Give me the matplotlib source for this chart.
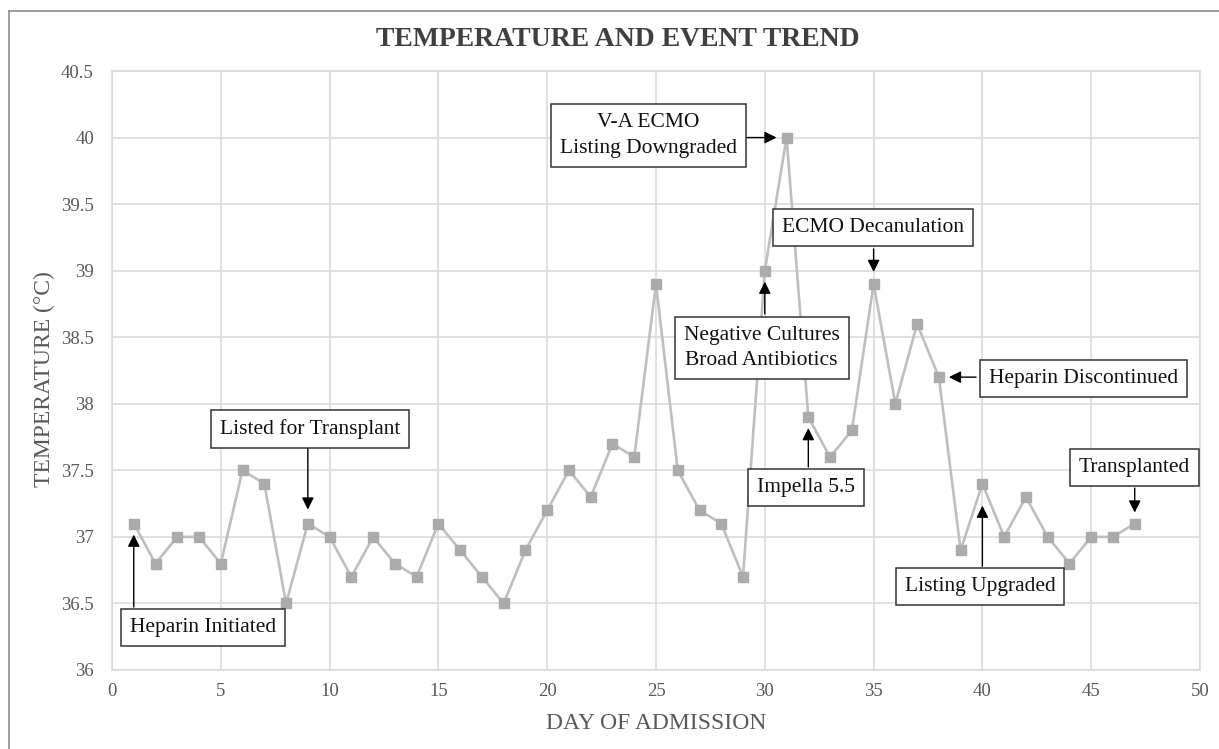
import matplotlib
matplotlib.use("Agg")
import matplotlib.pyplot as plt
from matplotlib.lines import Line2D
from matplotlib.ticker import FuncFormatter

plt.rcParams['font.family'] = ['Liberation Serif', 'DejaVu Serif']

# Datos del grafico
days = list(range(1, 48))
temps = [37.1, 36.8, 37.0, 37.0, 36.8, 37.5, 37.4, 36.5, 37.1, 37.0,
         36.7, 37.0, 36.8, 36.7, 37.1, 36.9, 36.7, 36.5, 36.9, 37.2,
         37.5, 37.3, 37.7, 37.6, 38.9, 37.5, 37.2, 37.1, 36.7, 39.0,
         40.0, 37.9, 37.6, 37.8, 38.9, 38.0, 38.6, 38.2, 36.9, 37.4,
         37.0, 37.3, 37.0, 36.8, 37.0, 37.0, 37.1]

event_labels = ["Heparin Initiated", "Listed for Transplant", "V-A ECMO\nListing Downgraded",
                "ECMO Decanulation", "Negative Cultures\nBroad Antibiotics", "Heparin Discontinued",
                "Impella 5.5", "Listing Upgraded", "Transplanted"]
event_days = [1, 9, 31, 35, 30, 38, 32, 40, 47]

# posicion de la caja (centro) y del inicio de la flecha, en datos
box_pos = [(4.18, 36.32), (9.1, 37.81), (24.66, 40.016), (34.97, 39.325), (29.85, 38.42),
           (44.65, 38.19), (31.9, 37.37), (39.89, 36.63), (47.0, 37.52)]
arrow_start = [(1, 36.473), (9, 37.668), (28.86, 40.0), (35, 39.163), (30, 38.675),
               (39.71, 38.2), (32, 37.525), (40, 36.78), (47, 37.367)]
arrow_gap = [11, 14, 10, 12, 11, 10, 11, 22, 11]  # px

fig = plt.figure(figsize=(12.19, 7.49), dpi=100)
ax = fig.add_axes([112 / 1219, 1 - 670 / 749, 1088 / 1219, 599 / 749])

grid_c = '#D9D9D9'
ax.plot(days, temps, color='#BFBFBF', lw=1.9, marker='s', markersize=7,
        markerfacecolor='#ABABAB', markeredgecolor='#ABABAB', zorder=3, clip_on=False)

ax.set_xlim(0, 50)
ax.set_ylim(36, 40.5)
ax.set_xticks(range(0, 51, 5))
ax.set_yticks([36 + 0.5 * i for i in range(10)])
ax.yaxis.set_major_formatter(FuncFormatter(lambda v, p: '{:g}'.format(v)))
ax.grid(True, color=grid_c, lw=1.1, zorder=0)
for s in ax.spines.values():
    s.set_color(grid_c)
    s.set_linewidth(1.1)
ax.tick_params(length=0, labelsize=13.5, labelcolor='#595959')
ax.tick_params(axis='x', pad=9)
ax.tick_params(axis='y', pad=13)

ax.set_xlabel('DAY OF ADMISSION', fontsize=17, color='#595959')
ax.xaxis.set_label_coords(0.5, -0.0885)
ax.xaxis.label.set_va('center')
ax.set_ylabel('TEMPERATURE (°C)', fontsize=17, color='#595959')
ax.yaxis.set_label_coords(-0.0625, 0.485)
ax.yaxis.label.set_va('center')

fig.text(0.5 * (373 + 862) / 1219, 1 - 40 / 749, 'TEMPERATURE AND EVENT TREND',
         ha='center', va='center', fontsize=20, fontweight='bold', color='#404040')

for lab, d, bp, st, g in zip(event_labels, event_days, box_pos, arrow_start, arrow_gap):
    ax.annotate('', xy=(d, temps[d - 1]), xytext=st,
                arrowprops=dict(arrowstyle='-|>,head_length=0.6,head_width=0.3',
                                color='black', lw=1, shrinkA=0, shrinkB=g * 0.72,
                                mutation_scale=12), zorder=5)
    ax.text(bp[0], bp[1], lab, ha='center', va='center', fontsize=15.5, color='#111111',
            linespacing=1.45, zorder=6,
            bbox=dict(boxstyle='square,pad=0.42', fc='white', ec='#333333', lw=1.1))

# borde de la figura
fig.add_artist(Line2D([9 / 1219, 9 / 1219], [0, 1 - 11 / 749], color='#8C8C8C', lw=1.2))
fig.add_artist(Line2D([9 / 1219, 1], [1 - 11 / 749, 1 - 11 / 749], color='#8C8C8C', lw=1.2))

fig.savefig('out.png', dpi=100)
